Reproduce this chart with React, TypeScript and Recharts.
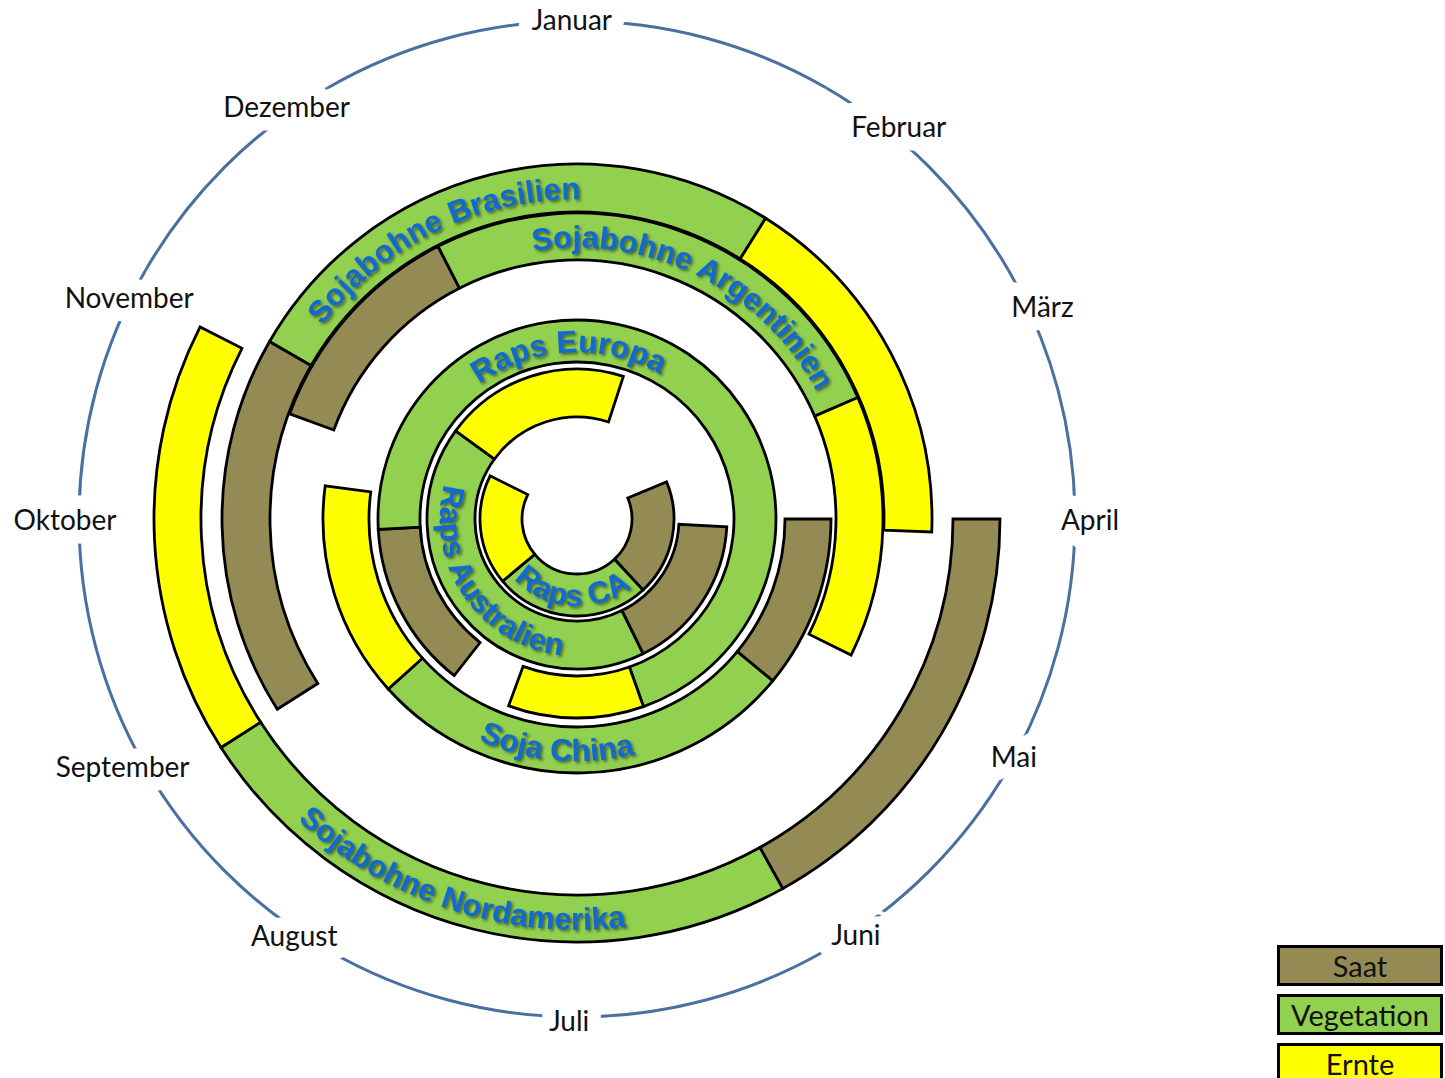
import React from 'react';
import { PieChart, Pie, Cell, Legend } from 'recharts';

// ---------- data ----------
const months = ['Januar', 'Februar', 'März', 'April', 'Mai', 'Juni', 'Juli', 'August', 'September', 'Oktober', 'November', 'Dezember'];
// where each month label sits on the calendar circle (months clockwise from the top)
const monthLabelAt = [11.98, 1.31, 2.18, 3.0, 3.95, 4.87, 6.03, 7.14, 8.05, 9.0, 9.88, 10.83];
// distance of each month label from the centre (px)
const monthLabelR = [500, 508, 512, 513, 497, 500, 501, 503, 517, 512, 500, 505];

const phases = ['Saat', 'Vegetation', 'Ernte'];
const phaseColors = ['#948A54', '#92D050', '#FFFF00'];

// [phase, from, to] in months clockwise from the top of the circle (values > 12 wrap)
const nordamerika = [['Saat', 3.0, 5.03], ['Vegetation', 5.03, 7.91], ['Ernte', 7.91, 9.9]];
const brasilien = [['Saat', 7.92, 10.0], ['Vegetation', 10.0, 13.07], ['Ernte', 13.07, 15.07]];
const argentinien = [['Saat', 9.67, 11.1], ['Vegetation', 11.1, 14.22], ['Ernte', 14.22, 15.88]];
const sojaChina = [['Saat', 3.0, 4.32], ['Vegetation', 4.32, 7.6], ['Ernte', 7.6, 9.25]];
const rapsEuropa = [['Saat', 7.27, 8.9], ['Vegetation', 8.9, 17.35], ['Ernte', 17.35, 18.67]];
const rapsAustralien = [['Saat', 3.1, 5.13], ['Vegetation', 5.13, 10.2], ['Ernte', 10.2, 12.6]];
const rapsCA = [['Saat', 2.25, 4.57], ['Vegetation', 4.57, 7.67], ['Ernte', 7.67, 9.88]];

const ringSeries = [nordamerika, brasilien, argentinien, sojaChina, rapsEuropa, rapsAustralien, rapsCA];
const ringNames = ['Sojabohne Nordamerika', 'Sojabohne Brasilien', 'Sojabohne Argentinien', 'Soja China', 'Raps Europa', 'Raps Australien', 'Raps CA'];
// where each ring's name is centred (months clockwise from the top)
const ringNameAt = [6.6, 11.13, 0.88, 6.17, 11.9, 7.85, 6.13];

// ---------- layout / style ----------
const W = 1445;
const H = 1078;
const CX = 577;
const CY = 519;
const ringRadii = [[376, 423], [307, 355], [259, 306], [208, 254], [157, 199], [102, 150], [55, 97]];
const MONTH_R = 498;

const pt = (r: number, deg: number) => [CX + r * Math.sin((deg * Math.PI) / 180), CY - r * Math.cos((deg * Math.PI) / 180)];

function ringData(ring: any[]) {
  const start = ring[0][1];
  const out: any[] = [];
  let pos = start;
  ring.forEach(([phase, from, to]: any) => {
    if (from > pos + 1e-6) out.push({ name: 'gap', value: from - pos, phase: null });
    out.push({ name: phase, value: to - from, phase });
    pos = to;
  });
  const rest = start + 12 - pos;
  if (rest > 1e-6) out.push({ name: 'gap', value: rest, phase: null });
  return out;
}

function CurvedName({ idx }: { idx: number }) {
  const [ri, ro] = ringRadii[idx];
  const mid = (ri + ro) / 2;
  const deg = ringNameAt[idx] * 30;
  const inward = Math.cos((deg * Math.PI) / 180) < 0;
  const fs = 31;
  const r = inward ? mid + fs * 0.36 : mid - fs * 0.36;
  const half = 88;
  let d: string;
  if (!inward) {
    const [x0, y0] = pt(r, deg - half);
    const [x1, y1] = pt(r, deg + half);
    d = `M ${x0} ${y0} A ${r} ${r} 0 0 1 ${x1} ${y1}`;
  } else {
    const [x0, y0] = pt(r, deg + half);
    const [x1, y1] = pt(r, deg - half);
    d = `M ${x0} ${y0} A ${r} ${r} 0 0 0 ${x1} ${y1}`;
  }
  const id = `ringname-${idx}`;
  return (
    <g>
      <defs>
        <path id={id} d={d} fill="none" />
      </defs>
      <text
        fontFamily="'Liberation Sans', Arial, sans-serif"
        fontWeight="bold"
        fontSize={fs}
        fill="#1169D2"
        style={{ filter: 'drop-shadow(2px 2.5px 1.5px rgba(0,0,0,0.5))' }}
      >
        <textPath href={`#${id}`} startOffset="50%" textAnchor="middle">
          {ringNames[idx]}
        </textPath>
      </text>
    </g>
  );
}

const ringLabel = (idx: number) => (props: any) => {
  if (props.index !== 0) return <g />;
  return <CurvedName idx={idx} />;
};

const monthLabel = (props: any) => {
  const i = props.index;
  const [x, y] = pt(monthLabelR[i], monthLabelAt[i] * 30);
  return (
    <text
      x={x}
      y={y}
      textAnchor="middle"
      dominantBaseline="central"
      fontFamily="Lato, 'Open Sans', sans-serif"
      fontSize={28}
      fill="#111"
      stroke="#fff"
      strokeWidth={27}
      strokeLinejoin="round"
      paintOrder="stroke"
    >
      {months[i]}
    </text>
  );
};

const LegendBoxes = () => (
  <div style={{ display: 'flex', flexDirection: 'column', gap: 8 }}>
    {phases.map((p, i) => (
      <div
        key={p}
        style={{
          boxSizing: 'border-box',
          width: 166,
          height: 41,
          border: '3px solid #000',
          background: phaseColors[i],
          fontFamily: 'Lato, sans-serif',
          fontSize: 29,
          lineHeight: '35px',
          textAlign: 'center',
          color: '#111',
        }}
      >
        {p}
      </div>
    ))}
  </div>
);

export default function App() {
  const monthData = months.map((m) => ({ name: m, value: 1 }));
  return (
    <div style={{ position: 'absolute', left: 0, top: 0, width: W, height: H, background: '#fff', overflow: 'hidden' }}>
      <PieChart width={W} height={H} margin={{ top: 0, right: 0, bottom: 0, left: 0 }}>
        <Pie
          data={monthData}
          dataKey="value"
          cx={CX}
          cy={CY}
          innerRadius={MONTH_R - 1.5}
          outerRadius={MONTH_R + 1.5}
          startAngle={90}
          endAngle={-270}
          stroke="none"
          fill="#4A6FA0"
          label={monthLabel}
          labelLine={false}
          isAnimationActive={false}
          legendType="none"
        />
        {ringSeries.map((ring, idx) => {
          const data = ringData(ring);
          const sa = 90 - ring[0][1] * 30;
          return (
            <Pie
              key={ringNames[idx]}
              data={data}
              dataKey="value"
              cx={CX}
              cy={CY}
              innerRadius={ringRadii[idx][0]}
              outerRadius={ringRadii[idx][1]}
              startAngle={sa}
              endAngle={sa - 360}
              label={ringLabel(idx)}
              labelLine={false}
              isAnimationActive={false}
              legendType="none"
            >
              {data.map((d, j) => (
                <Cell
                  key={j}
                  fill={d.phase ? phaseColors[phases.indexOf(d.phase)] : 'transparent'}
                  stroke={d.phase ? '#000' : 'none'}
                  strokeWidth={d.phase ? 2.8 : 0}
                />
              ))}
            </Pie>
          );
        })}
        <Legend
          layout="vertical"
          align="right"
          verticalAlign="bottom"
          content={() => <LegendBoxes />}
          wrapperStyle={{ position: 'absolute', left: 1277, top: 945, width: 166, bottom: 'auto', right: 'auto' }}
        />
      </PieChart>
    </div>
  );
}
